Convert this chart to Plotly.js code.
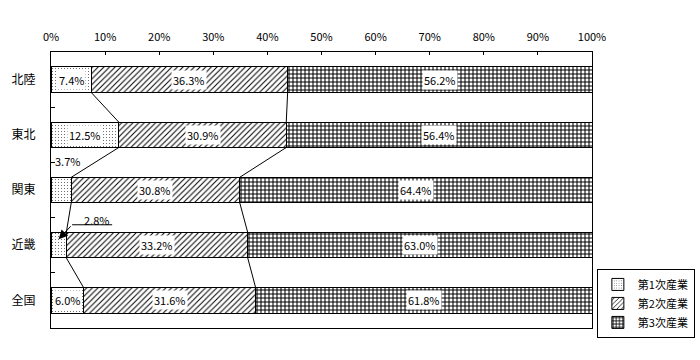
<!DOCTYPE html>
<html><head><meta charset="utf-8">
<script src="https://cdn.plot.ly/plotly-3.0.1.min.js"></script>
<style>body{margin:0;background:#fff}#c{width:700px;height:360px}</style>
</head><body><div id="c"></div>
<script>
const categories = ['北陸','東北','関東','近畿','全国'];
const primary   = [7.4, 12.5, 3.7, 2.8, 6.0];
const secondary = [36.3, 30.9, 30.8, 33.2, 31.6];
const tertiary  = [56.2, 56.4, 64.4, 63.0, 61.8];
const seriesNames = ['第1次産業','第2次産業','第3次産業'];
const xTickVals = [0,10,20,30,40,50,60,70,80,90,100];
const xTickText = ['0%','10%','20%','30%','40%','50%','60%','70%','80%','90%','100%'];

const idx = categories.map((_, i) => i);
const totals = idx.map(i => primary[i] + secondary[i] + tertiary[i]);
const norm = arr => arr.map((v, i) => v / totals[i] * 100);
const p1 = norm(primary), p2 = norm(secondary), p3 = norm(tertiary);
const cum1 = p1, cum2 = idx.map(i => p1[i] + p2[i]);
const W = 0.46;
const FONT = '"Noto Sans CJK JP", "DejaVu Sans Mono", monospace';

const traces = [
  {type:'bar', orientation:'h', name:seriesNames[0], y:idx, x:p1, width:W,
   marker:{color:'white', line:{color:'black', width:1},
     pattern:{shape:'.', fgcolor:'black', bgcolor:'white', size:3, solidity:0.08}}, hoverinfo:'skip'},
  {type:'bar', orientation:'h', name:seriesNames[1], y:idx, x:p2, width:W,
   marker:{color:'white', line:{color:'black', width:1},
     pattern:{shape:'/', fgcolor:'black', bgcolor:'white', size:4, solidity:0.25}}, hoverinfo:'skip'},
  {type:'bar', orientation:'h', name:seriesNames[2], y:idx, x:p3, width:W,
   marker:{color:'white', line:{color:'black', width:1},
     pattern:{shape:'+', fgcolor:'black', bgcolor:'white', size:4, solidity:0.45}}, hoverinfo:'skip'}
];
// series connector lines
[cum1, cum2].forEach(cum => {
  for (let i = 0; i < categories.length - 1; i++) {
    traces.push({type:'scatter', mode:'lines', x:[cum[i], cum[i+1]], y:[i + W/2, i + 1 - W/2],
      line:{color:'black', width:1}, showlegend:false, hoverinfo:'skip'});
  }
});

const annotations = [];
const lab = (x, y, t, extra) => annotations.push(Object.assign({x, y, xref:'x', yref:'y', text:t, showarrow:false,
  bgcolor:'white', borderpad:1, font:{family:FONT, size:11, color:'black'}}, extra||{}));
idx.forEach(i => {
  const pct = v => v.toFixed(1) + '%';
  if (i !== 2 && i !== 3) lab(p1[i] / 2, i, pct(primary[i]));
  lab(cum1[i] + p2[i] / 2, i, pct(secondary[i]));
  lab(cum2[i] + p3[i] / 2, i, pct(tertiary[i]));
});
// 関東 primary label above its bar
lab(0, 1.47, primary[2].toFixed(1) + '%', {xanchor:'left', xshift:2, bgcolor:'rgba(0,0,0,0)'});
// 近畿 primary label with leader
lab(8.5, 2.54, primary[3].toFixed(1) + '%', {bgcolor:'rgba(0,0,0,0)'});
annotations.push({x:p1[3] / 2, y:3 - W/2 + 0.12, xref:'x', yref:'y', ax:3.9, ay:2.63, axref:'x', ayref:'y',
  text:'', showarrow:true, arrowhead:2, arrowsize:1.8, arrowwidth:1, arrowcolor:'black'});

const layout = {
  width:700, height:360, paper_bgcolor:'white', plot_bgcolor:'white',
  margin:{l:51, r:108, t:52, b:32, autoexpand:false},
  barmode:'stack', bargap:0,
  font:{family:FONT, size:11, color:'black'},
  xaxis:{side:'top', range:[0,100], tickvals:xTickVals, ticktext:xTickText, ticks:'inside', ticklen:3,
    tickcolor:'black', showgrid:false, zeroline:false, showline:true, linecolor:'black', linewidth:1, mirror:true,
    ticklabelstandoff:6, tickfont:{family:FONT, size:11}, fixedrange:true, automargin:false},
  yaxis:{range:[4.5,-0.5], tickvals:idx, ticktext:categories, ticks:'', showgrid:false, zeroline:false,
    showline:true, linecolor:'black', linewidth:1, mirror:true, ticklabelstandoff:12, automargin:false,
    tickfont:{family:FONT, size:12},
    minor:{tickvals:[0.5,1.5,2.5,3.5], ticks:'inside', ticklen:4, tickcolor:'black', showgrid:false}},
  legend:{x:1.009, y:0.214, xanchor:'left', yanchor:'top', bordercolor:'black', borderwidth:1,
    font:{family:FONT, size:11}, traceorder:'normal', itemwidth:30, tracegroupgap:0},
  shapes:[{type:'line', xref:'x', yref:'y', x0:3.9, x1:11.3, y0:2.63, y1:2.63, line:{color:'black', width:1}}],
  annotations
};
Plotly.newPlot('c', traces, layout, {staticPlot:true});
</script></body></html>
